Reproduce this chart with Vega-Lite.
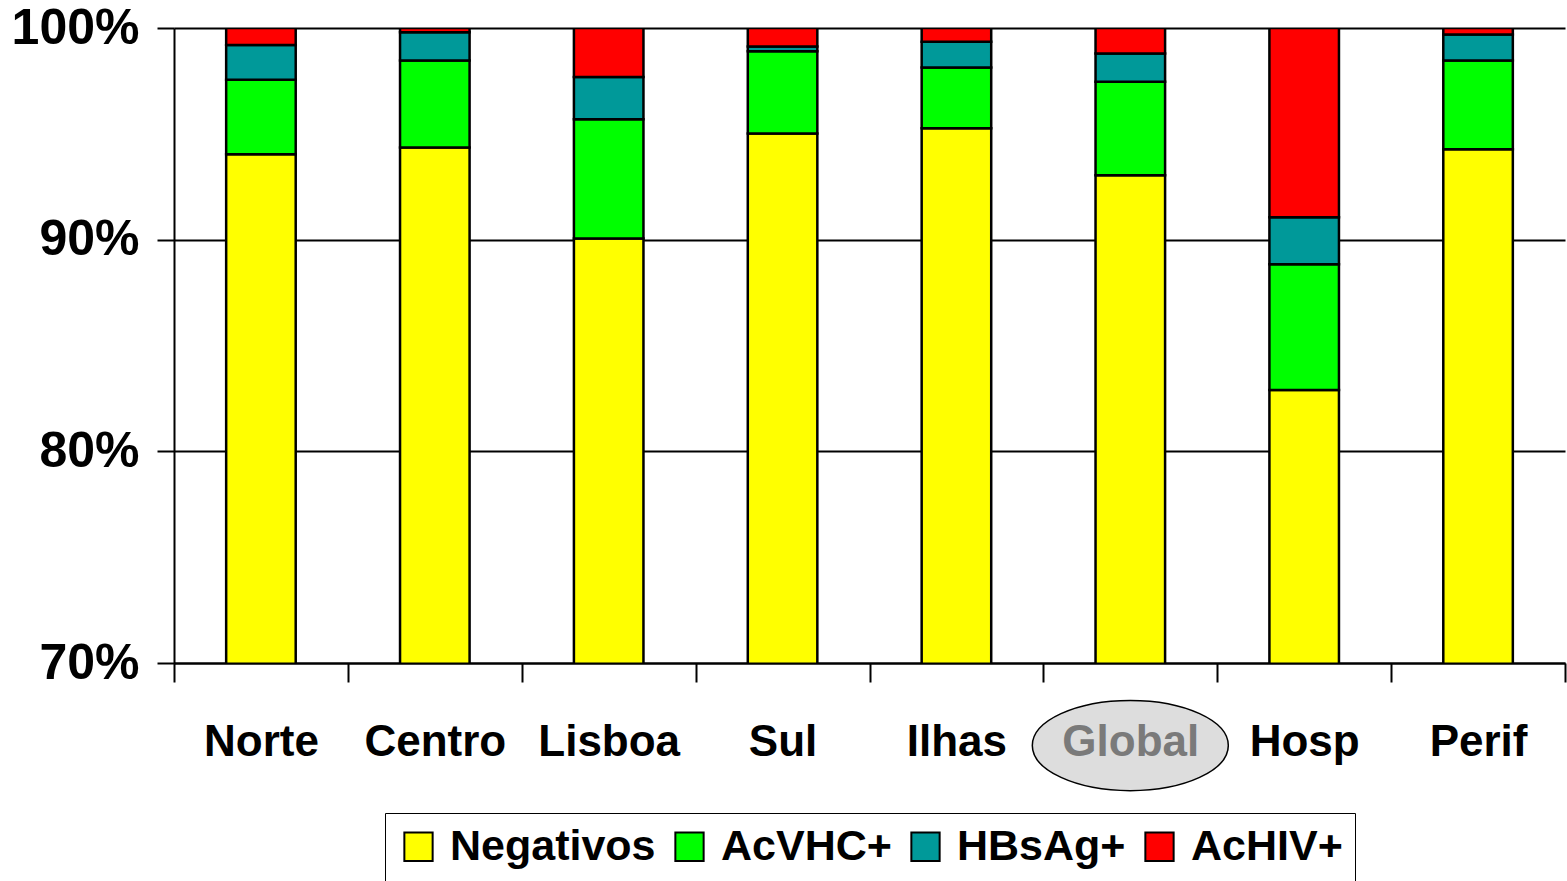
{
  "$schema": "https://vega.github.io/schema/vega-lite/v6.json",
  "width": 1391,
  "height": 635,
  "autosize": "none",
  "padding": {"left": 174, "top": 28, "right": 2, "bottom": 218},
  "background": "white",
  "config": {
    "font": "Liberation Sans",
    "view": {"stroke": null},
    "legend": {"layout": {"bottom": {"anchor": "middle"}}}
  },
  "datasets": {
    "rows": [
      {"region": "Norte", "type": "Negativos", "value": 0.9403},
      {"region": "Norte", "type": "AcVHC+", "value": 0.0352},
      {"region": "Norte", "type": "HBsAg+", "value": 0.0165},
      {"region": "Norte", "type": "AcHIV+", "value": 0.0080},
      {"region": "Centro", "type": "Negativos", "value": 0.9436},
      {"region": "Centro", "type": "AcVHC+", "value": 0.0410},
      {"region": "Centro", "type": "HBsAg+", "value": 0.0134},
      {"region": "Centro", "type": "AcHIV+", "value": 0.0020},
      {"region": "Lisboa", "type": "Negativos", "value": 0.9005},
      {"region": "Lisboa", "type": "AcVHC+", "value": 0.0564},
      {"region": "Lisboa", "type": "HBsAg+", "value": 0.0200},
      {"region": "Lisboa", "type": "AcHIV+", "value": 0.0231},
      {"region": "Sul", "type": "Negativos", "value": 0.9502},
      {"region": "Sul", "type": "AcVHC+", "value": 0.0388},
      {"region": "Sul", "type": "HBsAg+", "value": 0.0023},
      {"region": "Sul", "type": "AcHIV+", "value": 0.0087},
      {"region": "Ilhas", "type": "Negativos", "value": 0.9526},
      {"region": "Ilhas", "type": "AcVHC+", "value": 0.0287},
      {"region": "Ilhas", "type": "HBsAg+", "value": 0.0122},
      {"region": "Ilhas", "type": "AcHIV+", "value": 0.0065},
      {"region": "Global", "type": "Negativos", "value": 0.9304},
      {"region": "Global", "type": "AcVHC+", "value": 0.0442},
      {"region": "Global", "type": "HBsAg+", "value": 0.0133},
      {"region": "Global", "type": "AcHIV+", "value": 0.0121},
      {"region": "Hosp", "type": "Negativos", "value": 0.8290},
      {"region": "Hosp", "type": "AcVHC+", "value": 0.0594},
      {"region": "Hosp", "type": "HBsAg+", "value": 0.0222},
      {"region": "Hosp", "type": "AcHIV+", "value": 0.0894},
      {"region": "Perif", "type": "Negativos", "value": 0.9427},
      {"region": "Perif", "type": "AcVHC+", "value": 0.0419},
      {"region": "Perif", "type": "HBsAg+", "value": 0.0123},
      {"region": "Perif", "type": "AcHIV+", "value": 0.0031}
    ],
    "series": [
      {"type": "Negativos", "rank": 1},
      {"type": "AcVHC+", "rank": 2},
      {"type": "HBsAg+", "rank": 3},
      {"type": "AcHIV+", "rank": 4}
    ]
  },
  "layer": [
    {
      "data": {"name": "rows"},
      "transform": [
        {"lookup": "type", "from": {"data": {"name": "series"}, "key": "type", "fields": ["rank"]}}
      ],
      "mark": {"type": "bar", "clip": true, "stroke": "black", "strokeWidth": 2.5, "width": {"band": 0.4}},
      "encoding": {
        "x": {
          "field": "region",
          "type": "nominal",
          "sort": ["Norte", "Centro", "Lisboa", "Sul", "Ilhas", "Global", "Hosp", "Perif"],
          "scale": {
            "domain": ["Norte", "Centro", "Lisboa", "Sul", "Ilhas", "Global", "Hosp", "Perif"],
            "paddingInner": 0,
            "paddingOuter": 0
          },
          "axis": {
            "title": null,
            "tickBand": "extent",
            "tickSize": 19,
            "tickColor": "black",
            "tickWidth": 2,
            "domainColor": "black",
            "domainWidth": 2,
            "labelFontSize": 44,
            "labelFontWeight": "bold",
            "labelColor": {"condition": {"test": "datum.value === 'Global'", "value": "#7a7a7a"}, "value": "black"},
            "labelPadding": 38,
            "labelAngle": 0,
            "labelLimit": 300,
            "zindex": 1,
            "grid": false
          }
        },
        "y": {
          "field": "value",
          "type": "quantitative",
          "stack": "zero",
          "scale": {"domain": [0.7, 1], "nice": false, "zero": false},
          "axis": {
            "title": null,
            "values": [0.7, 0.8, 0.9, 1],
            "format": ".0%",
            "tickSize": 17,
            "tickColor": "black",
            "tickWidth": 2,
            "domainColor": "black",
            "domainWidth": 2,
            "grid": true,
            "gridColor": "black",
            "gridWidth": 2,
            "gridOpacity": 1,
            "labelFontSize": 50,
            "labelFontWeight": "bold",
            "labelColor": "black",
            "labelPadding": 18,
            "zindex": 0
          }
        },
        "color": {
          "field": "type",
          "type": "nominal",
          "scale": {
            "domain": ["Negativos", "AcVHC+", "HBsAg+", "AcHIV+"],
            "range": ["#FFFF00", "#00FF00", "#009999", "#FF0000"]
          },
          "legend": {
            "title": null,
            "orient": "bottom",
            "direction": "horizontal",
            "symbolType": "square",
            "symbolSize": 800,
            "symbolStrokeColor": "black",
            "symbolStrokeWidth": 2,
            "symbolOpacity": 1,
            "labelFontSize": 43,
            "labelFontWeight": "bold",
            "labelColor": "black",
            "labelOffset": 10,
            "labelLimit": 400,
            "columnPadding": 12,
            "padding": 12,
            "strokeColor": "black",
            "offset": 49
          }
        },
        "order": {"field": "rank", "type": "quantitative"}
      }
    },
    {
      "data": {"values": [{"region": "Global"}]},
      "mark": {
        "type": "point",
        "shape": "M -1 0 A 1 0.46 0 1 1 1 0 A 1 0.46 0 1 1 -1 0 Z",
        "size": 38416,
        "filled": true,
        "fill": "#dddddd",
        "stroke": "black",
        "strokeWidth": 1.5,
        "opacity": 1
      },
      "encoding": {
        "x": {"field": "region", "type": "nominal", "sort": ["Norte", "Centro", "Lisboa", "Sul", "Ilhas", "Global", "Hosp", "Perif"]},
        "y": {"datum": 0.661, "type": "quantitative"}
      }
    }
  ]
}
